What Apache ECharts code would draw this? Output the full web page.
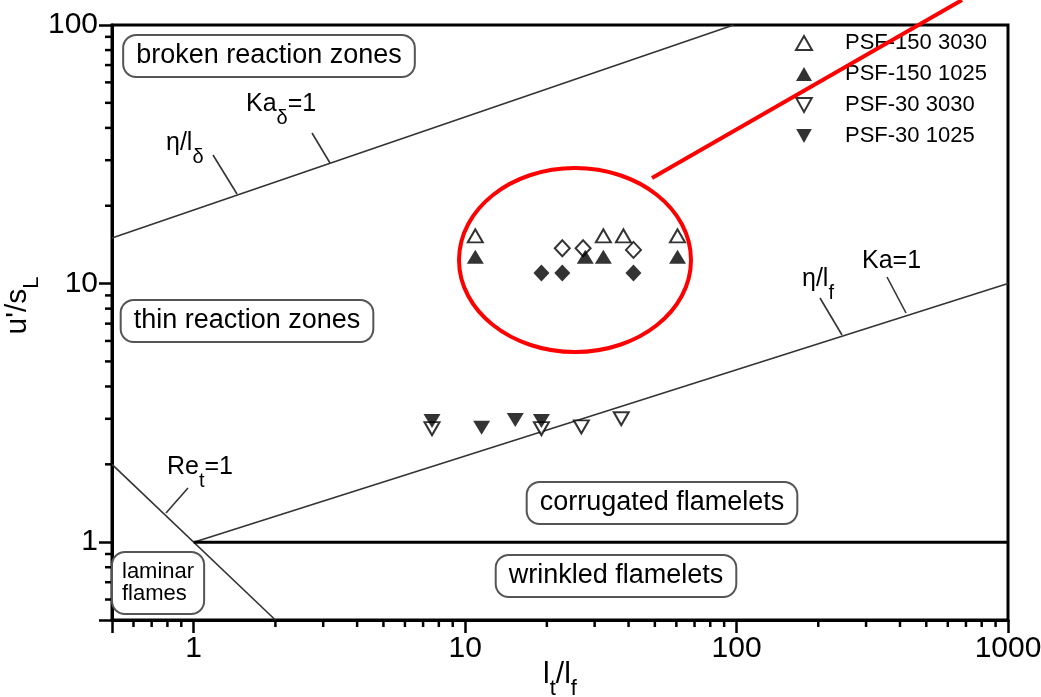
<!DOCTYPE html>
<html><head><meta charset="utf-8">
<script src="https://cdn.jsdelivr.net/npm/echarts@6/dist/echarts.min.js"></script>
<style>html,body{margin:0;padding:0;background:#fff}#c{width:1041px;height:697px}</style>
</head><body><div id="c"></div>
<script>
// ---- data ----
const psf150_3030 = [[10.9,15.3],[32.3,15.3],[38.3,15.3],[60.6,15.3]];
const psf150_1025 = [[10.9,12.7],[27.7,12.7],[32.3,12.7],[60.6,12.7]];
const openDiamonds = [[22.8,13.7],[27.2,13.7],[41.7,13.5]];
const filledDiamonds = [[19.1,11.0],[22.8,11.0],[41.7,11.0]];
const psf30_3030 = [[7.55,2.75],[19.1,2.75],[26.8,2.79],[37.6,3.0]];
const psf30_1025 = [[7.55,2.94],[11.5,2.77],[15.3,2.97],[19.1,2.94]];
const lineKaDelta = [[0.5,15],[97.5,100]];
const lineKa = [[1,1],[1000,10]];
const lineRet = [[0.5,2],[2,0.5]];
const lineUnity = [[1,1],[1000,1]];
const xMajorLabels = [1,10,100,1000];
const yMajorLabels = [1,10,100];
const xMinorTicks = [0.6,0.7,0.8,0.9,2,3,4,5,6,7,8,9,20,30,40,50,60,70,80,90,200,300,400,500,600,700,800,900];
const yMinorTicks = [0.6,0.7,0.8,0.9,2,3,4,5,6,7,8,9,20,30,40,50,60,70,80,90];
const X_MIN = 0.5, X_MAX = 1000, Y_MIN = 0.5, Y_MAX = 100;
const seriesNames = ['PSF-150 3030','PSF-150 1025','PSF-30 3030','PSF-30 1025'];

const FONT = '"Liberation Sans", Arial, Helvetica, sans-serif';
const INV_TRI = 'path://M0,0L20,0L10,18Z';
const chart = echarts.init(document.getElementById('c'), null, {renderer:'canvas'});

function fmtFor(list){ return v => { const r = Math.round(v*1000)/1000; return list.includes(r) ? String(r) : ''; }; }

const openStyle = {color:'#fff', borderColor:'#000', borderWidth:2};
const fillStyle = {color:'#000', borderColor:'#000', borderWidth:0};
const lineStyleThin = {color:'#333', width:1.6};

function minorTickSeries(values, isX){
  return {
    type:'custom', silent:true, clip:false, z:5,
    data: values.map(v => isX ? [v, Y_MIN] : [X_MIN, v]),
    renderItem: (params, api) => {
      const p = api.coord([api.value(0), api.value(1)]);
      return {type:'line', shape: isX ? {x1:p[0], y1:p[1], x2:p[0], y2:p[1]+7} : {x1:p[0]-7, y1:p[1], x2:p[0], y2:p[1]},
        style:{stroke:'#000', lineWidth:2.5}};
    }
  };
}

const annRich = {
  m:{fontSize:25, fontFamily:FONT, color:'#000', lineHeight:48, verticalAlign:'middle'},
  s:{fontSize:20, fontFamily:FONT, color:'#000', lineHeight:20, verticalAlign:'bottom'}
};
const axRich = {
  m:{fontSize:30, fontFamily:FONT, color:'#000', lineHeight:50, verticalAlign:'middle'},
  s:{fontSize:22, fontFamily:FONT, color:'#000', lineHeight:22, verticalAlign:'bottom'}
};
function ann(x, y, text){
  return {type:'text', x, y, z:20, style:{text, rich:annRich, align:'left', verticalAlign:'top'}};
}
function box(x, y, text){
  return {type:'text', x, y, z:20, style:{text, font:'27px '+FONT, fill:'#000', align:'center', verticalAlign:'middle',
    lineHeight:30, backgroundColor:'#fff', borderColor:'#555', borderWidth:2, borderRadius:12, padding:[5,12,5,12]}};
}
function tickLine(x1,y1,x2,y2){
  return {type:'line', z:20, shape:{x1,y1,x2,y2}, style:{stroke:'#333', lineWidth:1.6}};
}

chart.setOption({
  animation:false,
  backgroundColor:'#fff',
  grid:{left:112, right:33, top:25, bottom:77, show:true, borderColor:'#000', borderWidth:3, containLabel:false, outerBoundsMode:'none'},
  legend:{
    orient:'vertical', left:790, top:27, itemWidth:16, itemHeight:14, itemGap:9,
    data: seriesNames, selectedMode:false,
    formatter: n => '{sp|}{t|' + n + '}',
    textStyle:{rich:{sp:{width:28}, t:{fontSize:22, fontFamily:FONT, color:'#000', lineHeight:22}}}
  },
  xAxis:{
    type:'log', logBase:10, min:X_MIN, max:X_MAX,
    name:'{m|l}{s|t}{m|/l}{s|f}', nameLocation:'middle', nameGap:30, nameMoveOverlap:false,
    nameTextStyle:{fontSize:30, fontFamily:FONT, color:'#000', rich:axRich},
    axisLine:{show:true, lineStyle:{color:'#000', width:3}},
    axisTick:{show:true, inside:false, length:13, lineStyle:{color:'#000', width:2.5}},
    axisLabel:{fontSize:30, fontFamily:FONT, color:'#000', margin:14, formatter:fmtFor(xMajorLabels)},
    splitLine:{show:false}, minorTick:{show:false}, minorSplitLine:{show:false}
  },
  yAxis:{
    type:'log', logBase:10, min:Y_MIN, max:Y_MAX,
    name:"{m|u'/s}{s|L}", nameLocation:'middle', nameGap:69, nameRotate:90, nameMoveOverlap:false,
    nameTextStyle:{fontSize:30, fontFamily:FONT, color:'#000', padding:[0,0,0,34], rich:axRich},
    axisLine:{show:true, lineStyle:{color:'#000', width:3}},
    axisTick:{show:true, inside:false, length:13, lineStyle:{color:'#000', width:2.5}},
    axisLabel:{fontSize:30, fontFamily:FONT, color:'#000', margin:14, formatter:fmtFor(yMajorLabels)},
    splitLine:{show:false}, minorTick:{show:false}, minorSplitLine:{show:false}
  },
  series:[
    {type:'line', name:'Ka_delta', data:lineKaDelta, symbol:'none', silent:true, lineStyle:lineStyleThin, z:3},
    {type:'line', name:'Ka', data:lineKa, symbol:'none', silent:true, lineStyle:lineStyleThin, z:3},
    {type:'line', name:'Re_t', data:lineRet, symbol:'none', silent:true, lineStyle:lineStyleThin, z:3},
    {type:'line', name:'unity', data:lineUnity, symbol:'none', silent:true, lineStyle:{color:'#000', width:3}, z:3},
    minorTickSeries(xMinorTicks, true),
    minorTickSeries(yMinorTicks, false),
    {type:'scatter', name:'open diamonds', data:openDiamonds, symbol:'diamond', symbolSize:[15,16], itemStyle:openStyle, z:6},
    {type:'scatter', name:'filled diamonds', data:filledDiamonds, symbol:'diamond', symbolSize:[16,17], itemStyle:fillStyle, z:6},
    {type:'scatter', name:seriesNames[0], data:psf150_3030, symbol:'triangle', symbolSize:[15,13], itemStyle:openStyle, z:7},
    {type:'scatter', name:seriesNames[1], data:psf150_1025, symbol:'triangle', symbolSize:[17,14], itemStyle:fillStyle, z:7},
    {type:'scatter', name:seriesNames[2], data:psf30_3030, symbol:INV_TRI, symbolSize:[15,13], itemStyle:openStyle, z:7},
    {type:'scatter', name:seriesNames[3], data:psf30_1025, symbol:INV_TRI, symbolSize:[17,14], itemStyle:fillStyle, z:7}
  ],
  graphic:[
    box(269, 56, 'broken reaction zones'),
    box(247, 321, 'thin reaction zones'),
    box(662, 503, 'corrugated flamelets'),
    box(616, 576, 'wrinkled flamelets'),
    {type:'text', x:113, y:553, z:20, style:{text:'laminar\nflames', font:'22px '+FONT, fill:'#000', align:'left', verticalAlign:'top',
      lineHeight:22, backgroundColor:'#fff', borderColor:'#555', borderWidth:2, borderRadius:12, padding:[8,9,8,9]}},
    ann(246, 80, '{m|Ka}{s|δ}{m|=1}'),
    ann(166, 119, '{m|η/l}{s|δ}'),
    ann(167, 443, '{m|Re}{s|t}{m|=1}'),
    ann(802, 255, '{m|η/l}{s|f}'),
    ann(862, 237, '{m|Ka=1}'),
    tickLine(213,155,237,194),
    tickLine(312,133,330,163),
    tickLine(166,513,188,488),
    tickLine(820,298,842,335),
    tickLine(887,277,906,313),
    {type:'ellipse', z:50, shape:{cx:575, cy:260, rx:116, ry:92}, style:{fill:null, stroke:'#ff0000', lineWidth:4}},
    {type:'line', z:50, shape:{x1:652, y1:178, x2:962, y2:0}, style:{stroke:'#ff0000', lineWidth:4}}
  ]
});
</script>
</body></html>
